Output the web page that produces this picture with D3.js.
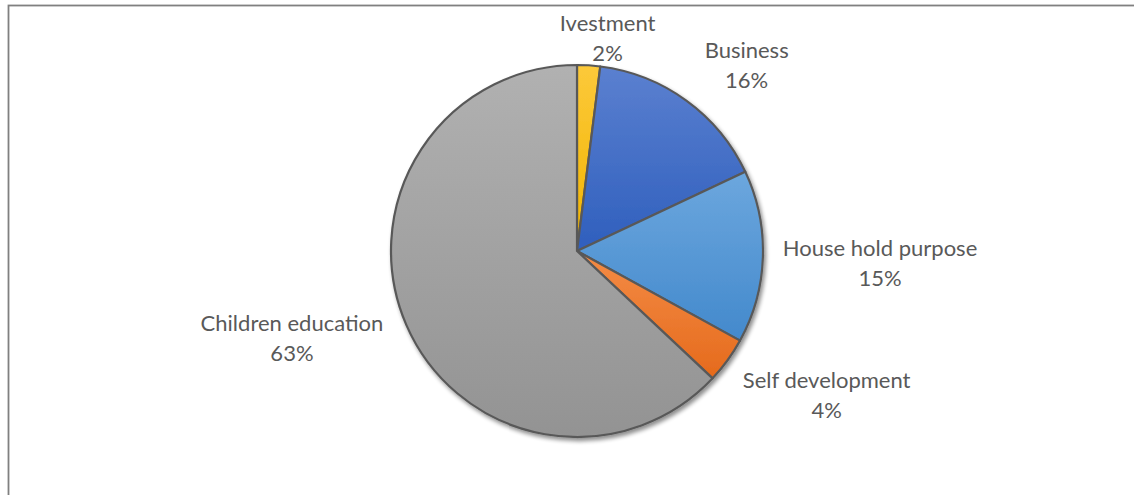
<!DOCTYPE html>
<html>
<head>
<meta charset="utf-8">
<script src="https://cdn.jsdelivr.net/npm/d3@7"></script>
<style>
  html, body { margin: 0; padding: 0; background: #fff; overflow: hidden; }
  svg { display: block; }
</style>
</head>
<body>
<svg id="chart" width="1134" height="495"></svg>
<script>
// Purposes of loan use and their share of respondents (%)
const categories = ["Ivestment", "Business", "House hold purpose", "Self development", "Children education"];
const shares = [2, 16, 15, 4, 63];
const percentLabels = ["2%", "16%", "15%", "4%", "63%"];

// Slice fills: light top / darker bottom of a vertical gradient
const fillTop = ["#fcc93a", "#5b80d0", "#6ca7de", "#f48c46", "#b1b1b1"];
const fillBottom = ["#f1b400", "#2f5fbd", "#4389cc", "#e56a1c", "#939393"];

// Small hand adjustments so the outside labels clear each other and the frame
const labelNudge = [[14, 26], [18, 7], [-10, 5], [7, 4], [-3, -7]];

const width = 1134, height = 495;
const cx = 577, cy = 251, radius = 186;
const labelGap = 30, lineStep = 30, capHeight = 15;

const svg = d3.select("#chart");

// Chart frame (only its top and left edges fall inside the view)
svg.append("rect")
  .attr("x", 8.5).attr("y", 5.5)
  .attr("width", width + 40).attr("height", height + 40)
  .attr("fill", "none")
  .attr("stroke", "#808080")
  .attr("stroke-width", 1.8);

const defs = svg.append("defs");

const shadow = defs.append("filter")
  .attr("id", "pieShadow")
  .attr("x", "-10%").attr("y", "-10%")
  .attr("width", "120%").attr("height", "120%");
shadow.append("feGaussianBlur").attr("in", "SourceAlpha").attr("stdDeviation", 2.2).attr("result", "blur");
shadow.append("feOffset").attr("in", "blur").attr("dx", 2).attr("dy", 2.5).attr("result", "off");
shadow.append("feComponentTransfer").attr("in", "off").attr("result", "soft")
  .append("feFuncA").attr("type", "linear").attr("slope", 0.45);
const merge = shadow.append("feMerge");
merge.append("feMergeNode").attr("in", "soft");
merge.append("feMergeNode").attr("in", "SourceGraphic");

categories.forEach((c, i) => {
  const g = defs.append("linearGradient")
    .attr("id", "grad" + i)
    .attr("x1", 0).attr("y1", 0).attr("x2", 0).attr("y2", 1);
  g.append("stop").attr("offset", "0%").attr("stop-color", fillTop[i]);
  g.append("stop").attr("offset", "100%").attr("stop-color", fillBottom[i]);
});

const data = categories.map((c, i) => ({ name: c, value: shares[i], pct: percentLabels[i], i }));

const pie = d3.pie().sort(null).value(d => d.value).startAngle(0).endAngle(2 * Math.PI);
const arcs = pie(data);
const arc = d3.arc().innerRadius(0).outerRadius(radius);

const plot = svg.append("g").attr("transform", `translate(${cx},${cy})`);

const slices = plot.append("g").attr("filter", "url(#pieShadow)");
slices.selectAll("path")
  .data(arcs)
  .join("path")
  .attr("d", arc)
  .attr("fill", d => `url(#grad${d.data.i})`)
  .attr("stroke", "#595959")
  .attr("stroke-width", 2.2)
  .attr("stroke-linejoin", "round");

// Outside-end data labels: box sits just beyond the rim along the slice's mid angle
const labels = plot.append("g")
  .attr("font-family", "Lato, 'Open Sans', sans-serif")
  .attr("font-size", 22)
  .attr("fill", "#595959")
  .attr("text-anchor", "middle");

arcs.forEach(d => {
  const a = (d.startAngle + d.endAngle) / 2;
  const s = Math.sin(a), c = Math.cos(a);
  const t = labels.append("text");
  t.append("tspan").attr("x", 0).attr("y", 0).text(d.data.name);
  t.append("tspan").attr("x", 0).attr("y", lineStep).text(d.data.pct);
  const w = t.node().getBBox().width;
  const h = capHeight + lineStep;
  const px = (radius + labelGap) * s, py = -(radius + labelGap) * c;
  const bx = px + s * w / 2 + labelNudge[d.data.i][0];
  const by = py - c * h / 2 + labelNudge[d.data.i][1];
  const baseline = by - h / 2 + capHeight;
  t.attr("transform", `translate(${bx},${baseline})`);
});
</script>
</body>
</html>
